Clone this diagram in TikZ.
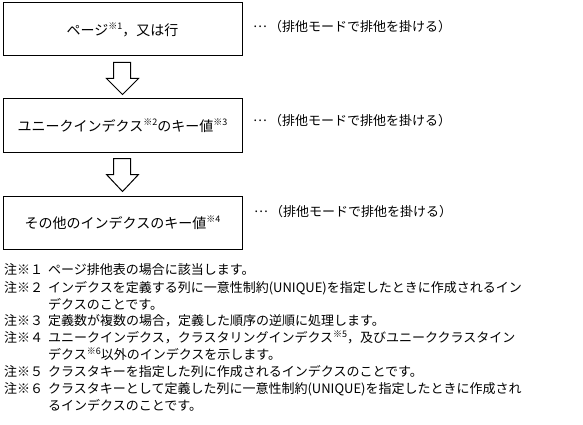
\documentclass[tikz,border=0pt]{standalone}
\usepackage{fontspec}
\setmainfont{Noto Sans CJK JP}
\usetikzlibrary{calc}
\newcommand\mysup[1]{\raisebox{0.42em}{\fontsize{9}{9}\selectfont ※#1}}
\newcommand\middots{\raisebox{0.3em}{…}}
\begin{document}
\begin{tikzpicture}[x=1pt,y=-1pt,
  box/.style={draw=black,line width=1pt,fill=white,minimum width=239pt,minimum height=53pt,inner sep=0pt,font=\fontsize{14}{16}\selectfont},
  blockarrow/.style={draw=black,line width=1pt,fill=white,line join=miter},
  side/.style={anchor=west,inner sep=0pt,font=\fontsize{13}{15}\selectfont,text height=10pt,text depth=3pt},
  note/.style={anchor=west,inner sep=0pt,font=\fontsize{13}{15}\selectfont,text height=10pt,text depth=3pt}]
\useasboundingbox (0,0) rectangle (583,425);
\fill[white] (0,0) rectangle (583,425);
% boxes
\node[box] (b1) at (122.5,29.5) {ページ\mysup{1}，又は行};
\node[box] (b2) at (122.5,125.5) {ユニークインデクス\mysup{2}のキー値\mysup{3}};
\node[box] (b3) at (122.5,222.5) {その他のインデクスのキー値\mysup{4}};
% block arrows
\draw[blockarrow] ($(b1.south)+(-9,6)$) -- ($(b1.south)+(8,6)$) -- ($(b1.south)+(8,22)$) -- ($(b1.south)+(16,22)$) -- ($(b1.south)+(0,38)$) -- ($(b1.south)+(-16,22)$) -- ($(b1.south)+(-9,22)$) -- cycle;
\draw[blockarrow] ($(b2.south)+(-9,6)$) -- ($(b2.south)+(8,6)$) -- ($(b2.south)+(8,22)$) -- ($(b2.south)+(16,22)$) -- ($(b2.south)+(0,39)$) -- ($(b2.south)+(-16,22)$) -- ($(b2.south)+(-9,22)$) -- cycle;
% side labels
\node[side] (s1) at (253,28) {\middots\,（排他モードで排他を掛ける）};
\node[side] (s2) at (253,122) {\middots\,（排他モードで排他を掛ける）};
\node[side] (s3) at (254,213) {\middots\,（排他モードで排他を掛ける）};
% notes
\node[note] (n1) at (4,271) {注※１};
\node[note] (t1) at (48,271) {ページ排他表の場合に該当します。};
\node[note] (n2) at (4,289) {注※２};
\node[note] (t2) at (48,289) {インデクスを定義する列に一意性制約(UNIQUE)を指定したときに作成されるイン};
\node[note] (t2b) at (48,306) {デクスのことです。};
\node[note] (n3) at (4,322) {注※３};
\node[note] (t3) at (48,322) {定義数が複数の場合，定義した順序の逆順に処理します。};
\node[note] (n4) at (4,339) {注※４};
\node[note] (t4) at (48,339) {ユニークインデクス，クラスタリングインデクス\mysup{5}，及びユニーククラスタイン};
\node[note] (t4b) at (48,356) {デクス\mysup{6}以外のインデクスを示します。};
\node[note] (n5) at (4,373) {注※５};
\node[note] (t5) at (48,373) {クラスタキーを指定した列に作成されるインデクスのことです。};
\node[note] (n6) at (4,390) {注※６};
\node[note] (t6) at (48,390) {クラスタキーとして定義した列に一意性制約(UNIQUE)を指定したときに作成され};
\node[note] (t6b) at (48,407) {るインデクスのことです。};
\end{tikzpicture}
\end{document}
